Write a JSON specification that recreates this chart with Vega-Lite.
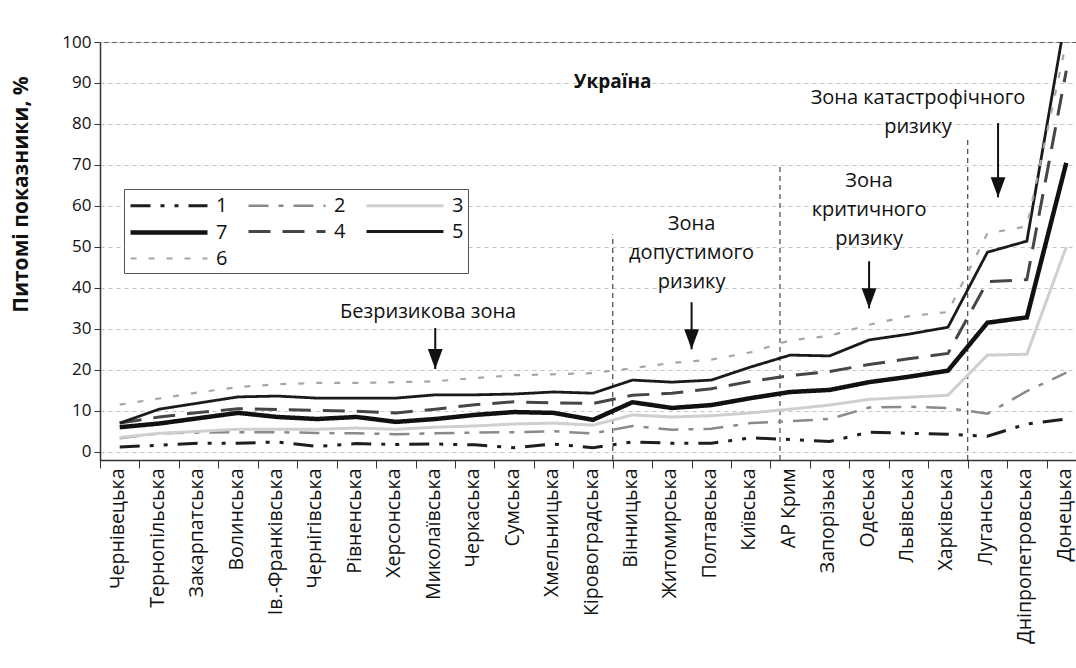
{
  "$schema": "https://vega.github.io/schema/vega-lite/v6.json",
  "width": 976,
  "height": 418,
  "autosize": {"type": "none"},
  "padding": {"left": 100, "top": 42, "right": 0, "bottom": 208},
  "background": "white",
  "config": {
    "view": {"stroke": "#555", "strokeWidth": 1},
    "font": "Open Sans",
    "axisY": {
      "values": [0, 10, 20, 30, 40, 50, 60, 70, 80, 90, 100],
      "labelFontSize": 17, "labelColor": "#111", "labelFont": "Open Sans", "labelPadding": 3,
      "tickSize": 6, "tickColor": "#333", "domainColor": "#333", "domainWidth": 1.5,
      "grid": true, "gridColor": "#c4c4c4", "gridDash": [4, 4],
      "titleFontSize": 21, "titleFont": "Open Sans", "titleFontWeight": "bold", "titleColor": "#111",
      "titleX": -79, "titleY": 152, "titleBaseline": "middle", "titleAlign": "center"
    },
    "axisX": {
      "labelAngle": -90, "labelFontSize": 19.5, "labelFont": "Open Sans", "labelColor": "#111", "labelOffset": -2,
      "tickBand": "extent", "tickSize": 8, "tickColor": "#333", "domainColor": "#333", "domainWidth": 1.5,
      "grid": false, "labelPadding": 0
    }
  },
  "datasets": {
    "lines": [
      {"r": "Чернівецька", "1": 1.2, "2": 3.3, "3": 3.5, "4": 7.0, "5": 7.0, "6": 11.5, "7": 6.0},
      {"r": "Тернопільська", "1": 1.6, "2": 4.5, "3": 4.5, "4": 8.5, "5": 10.4, "6": 13.0, "7": 6.9},
      {"r": "Закарпатська", "1": 2.1, "2": 4.7, "3": 5.0, "4": 9.6, "5": 11.9, "6": 14.5, "7": 8.2},
      {"r": "Волинська", "1": 2.1, "2": 4.8, "3": 5.5, "4": 10.5, "5": 13.4, "6": 15.8, "7": 9.5},
      {"r": "Ів.-Франківська", "1": 2.4, "2": 4.8, "3": 5.5, "4": 10.3, "5": 13.6, "6": 16.5, "7": 8.5},
      {"r": "Чернігівська", "1": 1.3, "2": 4.6, "3": 5.5, "4": 10.1, "5": 13.1, "6": 16.8, "7": 8.0},
      {"r": "Рівненська", "1": 2.0, "2": 4.5, "3": 5.8, "4": 9.9, "5": 13.1, "6": 16.8, "7": 8.5},
      {"r": "Херсонська", "1": 1.8, "2": 4.3, "3": 5.5, "4": 9.5, "5": 13.1, "6": 17.0, "7": 7.3},
      {"r": "Миколаївська", "1": 1.9, "2": 4.5, "3": 6.0, "4": 10.4, "5": 13.9, "6": 17.2, "7": 8.0},
      {"r": "Черкаська", "1": 1.7, "2": 4.7, "3": 6.3, "4": 11.5, "5": 13.9, "6": 18.0, "7": 9.0},
      {"r": "Сумська", "1": 1.0, "2": 4.8, "3": 6.8, "4": 12.2, "5": 14.1, "6": 18.7, "7": 9.7},
      {"r": "Хмельницька", "1": 1.9, "2": 5.0, "3": 7.0, "4": 11.9, "5": 14.6, "6": 18.9, "7": 9.5},
      {"r": "Кіровоградська", "1": 1.0, "2": 4.5, "3": 6.5, "4": 11.8, "5": 14.3, "6": 19.2, "7": 7.8},
      {"r": "Вінницька", "1": 2.4, "2": 6.3, "3": 9.0, "4": 13.8, "5": 17.5, "6": 20.4, "7": 12.1},
      {"r": "Житомирська", "1": 2.1, "2": 5.4, "3": 8.5, "4": 14.3, "5": 17.0, "6": 21.7, "7": 10.7},
      {"r": "Полтавська", "1": 2.1, "2": 5.6, "3": 8.8, "4": 15.4, "5": 17.5, "6": 22.5, "7": 11.4},
      {"r": "Київська", "1": 3.4, "2": 7.0, "3": 9.5, "4": 17.2, "5": 20.7, "6": 24.3, "7": 13.1},
      {"r": "АР Крим", "1": 3.0, "2": 7.5, "3": 10.4, "4": 18.6, "5": 23.6, "6": 27.2, "7": 14.6},
      {"r": "Запорізька", "1": 2.5, "2": 8.0, "3": 11.4, "4": 19.6, "5": 23.4, "6": 28.3, "7": 15.1},
      {"r": "Одеська", "1": 4.8, "2": 10.8, "3": 12.8, "4": 21.3, "5": 27.3, "6": 31.0, "7": 17.0},
      {"r": "Львівська", "1": 4.5, "2": 11.0, "3": 13.3, "4": 22.7, "5": 28.7, "6": 33.1, "7": 18.3},
      {"r": "Харківська", "1": 4.3, "2": 10.7, "3": 13.8, "4": 24.0, "5": 30.4, "6": 34.1, "7": 19.8},
      {"r": "Луганська", "1": 3.8, "2": 9.3, "3": 23.6, "4": 41.5, "5": 48.7, "6": 53.3, "7": 31.5},
      {"r": "Дніпропетровська", "1": 6.8, "2": 14.8, "3": 23.8, "4": 42.0, "5": 51.4, "6": 55.0, "7": 32.8},
      {"r": "Донецька", "1": 8.0, "2": 19.3, "3": 50.0, "4": 93.0, "5": 107.0, "6": 100.0, "7": 70.5}
    ],
    "zones": [
      {"id": "z1", "r": "Вінницька", "v": -2, "v2": 53},
      {"id": "z2", "r": "АР Крим", "v": -2, "v2": 70},
      {"id": "z3", "r": "Луганська", "v": -2, "v2": 77}
    ],
    "notes": [
      {"id": "n0", "t": "Україна", "r": "Вінницька", "v": 90.2},
      {"id": "n1", "t": "Безризикова зона", "r": "Миколаївська", "v": 34.0},
      {"id": "n2", "t": "Зона\nдопустимого\nризику", "r": "Полтавська", "v": 55.6},
      {"id": "n3", "t": "Зона\nкритичного\nризику", "r": "Одеська", "v": 66.0},
      {"id": "n4", "t": "Зона катастрофічного\nризику", "r": "Львівська", "v": 86.3}
    ],
    "arrows": [
      {"id": "a1", "r": "Миколаївська", "v": 30.2, "v2": 20.2},
      {"id": "a2", "r": "Полтавська", "v": 36.5, "v2": 25.0},
      {"id": "a3", "r": "Одеська", "v": 46.5, "v2": 35.0},
      {"id": "a4", "r": "Луганська", "v": 80.2, "v2": 62.1}
    ]
  },
  "layer": [
    {
      "data": {"name": "zones"},
      "transform": [{"filter": "datum.id !== 'z2'"}],
      "mark": {"type": "rule", "color": "#555", "strokeWidth": 1.3, "strokeDash": [5, 4]},
      "encoding": {
        "x": {"field": "r", "type": "nominal", "bandPosition": 0, "title": null, "sort": null,
          "scale": {"type": "band", "paddingInner": 0, "paddingOuter": 0, "range": [0, 986],
            "domain": ["Чернівецька", "Тернопільська", "Закарпатська", "Волинська", "Ів.-Франківська", "Чернігівська", "Рівненська", "Херсонська", "Миколаївська", "Черкаська", "Сумська", "Хмельницька", "Кіровоградська", "Вінницька", "Житомирська", "Полтавська", "Київська", "АР Крим", "Запорізька", "Одеська", "Львівська", "Харківська", "Луганська", "Дніпропетровська", "Донецька"]}},
        "y": {"field": "v", "type": "quantitative", "title": "Питомі показники, %", "scale": {"domain": [-2, 100], "nice": false}},
        "y2": {"field": "v2"}
      }
    },
    {
      "data": {"name": "zones"},
      "transform": [{"filter": "datum.id === 'z2'"}],
      "mark": {"type": "rule", "color": "#555", "strokeWidth": 1.3, "strokeDash": [5, 4]},
      "encoding": {
        "x": {"field": "r", "type": "nominal", "bandPosition": 0.24, "title": null},
        "y": {"field": "v", "type": "quantitative", "title": "Питомі показники, %"},
        "y2": {"field": "v2"}
      }
    },
    {
      "data": {"name": "lines"},
      "transform": [{"fold": ["1", "2", "3", "4", "5", "6", "7"], "as": ["s", "v"]}],
      "mark": {"type": "line", "clip": true, "strokeCap": "butt", "strokeJoin": "miter"},
      "encoding": {
        "x": {"field": "r", "type": "nominal", "title": null},
        "y": {"field": "v", "type": "quantitative", "title": "Питомі показники, %"},
        "color": {"field": "s", "type": "nominal",
          "scale": {"domain": ["1", "2", "3", "7", "4", "5", "6"], "range": ["#1e1e1e", "#8a8a8a", "#cfcfcf", "#111111", "#464646", "#1a1a1a", "#a6a6a6"]},
          "legend": {"orient": "none", "direction": "horizontal", "legendX": 24, "legendY": 147, "columns": 3, "title": null,
            "symbolType": "M-1,0L6,0", "symbolSize": 484, "labelOffset": 61, "labelFontSize": 20, "labelFont": "Open Sans", "labelColor": "#111",
            "fillColor": "white", "strokeColor": "#555", "padding": 4, "rowPadding": 3, "columnPadding": 14, "symbolFillColor": "transparent"}},
        "strokeDash": {"field": "s", "type": "nominal",
          "scale": {"domain": ["1", "2", "3", "7", "4", "5", "6"], "range": [[20, 10, 4, 10, 4, 10], [20, 10, 5, 10], [1, 0], [1, 0], [22, 12], [1, 0], [6, 12]]}},
        "strokeWidth": {"field": "s", "type": "nominal",
          "scale": {"type": "ordinal", "domain": ["1", "2", "3", "7", "4", "5", "6"], "range": [3, 2.5, 3, 4.5, 3, 2.8, 2.2]}}
      }
    },
    {
      "data": {"name": "arrows"},
      "transform": [{"filter": "datum.id === 'a1' || datum.id === 'a3'"}],
      "layer": [
        {"mark": {"type": "rule", "color": "#111", "strokeWidth": 2},
         "encoding": {"y": {"field": "v", "type": "quantitative", "title": "Питомі показники, %"}, "y2": {"field": "v2"}}},
        {"mark": {"type": "point", "shape": "M-0.37,-1L0.37,-1L0,0Z", "size": 1600, "filled": true, "color": "#111", "opacity": 1},
         "encoding": {"y": {"field": "v2", "type": "quantitative", "title": "Питомі показники, %"}}}
      ],
      "encoding": {"x": {"field": "r", "type": "nominal", "title": null}}
    },
    {
      "data": {"name": "arrows"},
      "transform": [{"filter": "datum.id === 'a2'"}],
      "layer": [
        {"mark": {"type": "rule", "color": "#111", "strokeWidth": 2},
         "encoding": {"y": {"field": "v", "type": "quantitative", "title": "Питомі показники, %"}, "y2": {"field": "v2"}}},
        {"mark": {"type": "point", "shape": "M-0.37,-1L0.37,-1L0,0Z", "size": 1600, "filled": true, "color": "#111", "opacity": 1},
         "encoding": {"y": {"field": "v2", "type": "quantitative", "title": "Питомі показники, %"}}}
      ],
      "encoding": {"x": {"field": "r", "type": "nominal", "title": null, "bandPosition": 0}}
    },
    {
      "data": {"name": "arrows"},
      "transform": [{"filter": "datum.id === 'a4'"}],
      "layer": [
        {"mark": {"type": "rule", "color": "#111", "strokeWidth": 2},
         "encoding": {"y": {"field": "v", "type": "quantitative", "title": "Питомі показники, %"}, "y2": {"field": "v2"}}},
        {"mark": {"type": "point", "shape": "M-0.37,-1L0.37,-1L0,0Z", "size": 1600, "filled": true, "color": "#111", "opacity": 1},
         "encoding": {"y": {"field": "v2", "type": "quantitative", "title": "Питомі показники, %"}}}
      ],
      "encoding": {"x": {"field": "r", "type": "nominal", "title": null, "bandPosition": 0.77}}
    },
    {
      "data": {"name": "notes"},
      "transform": [{"filter": "datum.id === 'n0'"}],
      "mark": {"type": "text", "font": "Open Sans", "fontSize": 19, "fontWeight": "bold", "color": "#111", "baseline": "middle", "align": "center"},
      "encoding": {
        "x": {"field": "r", "type": "nominal", "title": null, "bandPosition": 0},
        "y": {"field": "v", "type": "quantitative", "title": "Питомі показники, %"},
        "text": {"field": "t"}
      }
    },
    {
      "data": {"name": "notes"},
      "transform": [{"filter": "datum.id === 'n1'"}],
      "mark": {"type": "text", "font": "Open Sans", "fontSize": 20, "color": "#111", "baseline": "middle", "align": "center", "lineBreak": "\n", "lineHeight": 29},
      "encoding": {
        "x": {"field": "r", "type": "nominal", "title": null, "bandPosition": 0.32},
        "y": {"field": "v", "type": "quantitative", "title": "Питомі показники, %"},
        "text": {"field": "t"}
      }
    },
    {
      "data": {"name": "notes"},
      "transform": [{"filter": "datum.id === 'n2'"}],
      "mark": {"type": "text", "font": "Open Sans", "fontSize": 20, "color": "#111", "baseline": "middle", "align": "center", "lineBreak": "\n", "lineHeight": 29},
      "encoding": {
        "x": {"field": "r", "type": "nominal", "title": null, "bandPosition": 0},
        "y": {"field": "v", "type": "quantitative", "title": "Питомі показники, %"},
        "text": {"field": "t"}
      }
    },
    {
      "data": {"name": "notes"},
      "transform": [{"filter": "datum.id === 'n3'"}],
      "mark": {"type": "text", "font": "Open Sans", "fontSize": 20, "color": "#111", "baseline": "middle", "align": "center", "lineBreak": "\n", "lineHeight": 29},
      "encoding": {
        "x": {"field": "r", "type": "nominal", "title": null, "bandPosition": 0.5},
        "y": {"field": "v", "type": "quantitative", "title": "Питомі показники, %"},
        "text": {"field": "t"}
      }
    },
    {
      "data": {"name": "notes"},
      "transform": [{"filter": "datum.id === 'n4'"}],
      "mark": {"type": "text", "font": "Open Sans", "fontSize": 20, "color": "#111", "baseline": "middle", "align": "center", "lineBreak": "\n", "lineHeight": 29},
      "encoding": {
        "x": {"field": "r", "type": "nominal", "title": null, "bandPosition": 0.74},
        "y": {"field": "v", "type": "quantitative", "title": "Питомі показники, %"},
        "text": {"field": "t"}
      }
    }
  ]
}
